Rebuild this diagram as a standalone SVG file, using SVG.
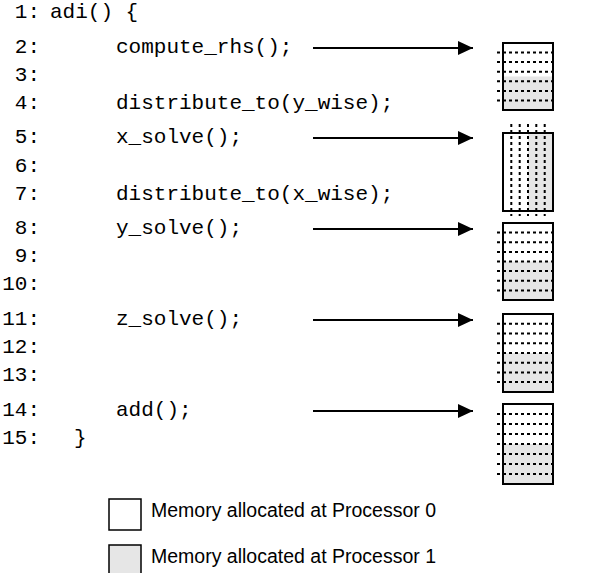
<svg xmlns="http://www.w3.org/2000/svg" width="608" height="573" viewBox="0 0 608 573">
<defs>
<style>
.code{font-family:"Liberation Mono","Courier New",monospace;font-size:21px;fill:#000}
.num{font-family:"Liberation Mono","Courier New",monospace;font-size:21px;fill:#000;text-anchor:end}
.leg{font-family:"Liberation Sans",Arial,sans-serif;font-size:19.5px;fill:#000}
.box{fill:none;stroke:#000;stroke-width:2}
.p1{fill:#e6e6e6;stroke:none}
.dot{stroke:#000;stroke-width:2;stroke-dasharray:3 3;fill:none}
.arr{stroke:#000;stroke-width:2;fill:none}
</style>
<marker id="ah" markerWidth="16" markerHeight="14" refX="15" refY="7" orient="auto" markerUnits="userSpaceOnUse">
<polygon points="0,0 15,7 0,14" fill="#000"/>
</marker>
</defs>
<g id="code">
<text class="num" x="40" y="18">1:</text><text class="code" x="50" y="18">adi() {</text>
<text class="num" x="40" y="53">2:</text><text class="code" x="116" y="53">compute_rhs();</text>
<text class="num" x="40" y="81">3:</text>
<text class="num" x="40" y="109">4:</text><text class="code" x="116" y="109">distribute_to(y_wise);</text>
<text class="num" x="40" y="143">5:</text><text class="code" x="116" y="143">x_solve();</text>
<text class="num" x="40" y="172">6:</text>
<text class="num" x="40" y="200">7:</text><text class="code" x="116" y="200">distribute_to(x_wise);</text>
<text class="num" x="40" y="234">8:</text><text class="code" x="116" y="234">y_solve();</text>
<text class="num" x="40" y="262">9:</text>
<text class="num" x="40" y="290">10:</text>
<text class="num" x="40" y="325">11:</text><text class="code" x="116" y="325">z_solve();</text>
<text class="num" x="40" y="353">12:</text>
<text class="num" x="40" y="381">13:</text>
<text class="num" x="40" y="416">14:</text><text class="code" x="116" y="416">add();</text>
<text class="num" x="40" y="444">15:</text><text class="code" x="74" y="444">}</text>
</g>
<g id="connectors">
<line class="arr" x1="313" y1="48" x2="473" y2="48" marker-end="url(#ah)"/>
<line class="arr" x1="313" y1="138" x2="473" y2="138" marker-end="url(#ah)"/>
<line class="arr" x1="313" y1="229" x2="473" y2="229" marker-end="url(#ah)"/>
<line class="arr" x1="313" y1="320" x2="473" y2="320" marker-end="url(#ah)"/>
<line class="arr" x1="313" y1="411" x2="473" y2="411" marker-end="url(#ah)"/>
</g>
<g id="mem1">
<rect class="p1" x="503" y="76.5" width="50" height="33.5"/>
<path class="dot" d="M497 52.6H556M497 62.1H556M497 71.7H556M497 81.3H556M497 90.9H556M497 100.4H556"/>
<rect class="box" x="503" y="43" width="50" height="67"/>
</g>
<g id="mem2">
<rect class="p1" x="528" y="133" width="25" height="78"/>
<path class="dot" d="M511.3 124V216M519.7 124V216M528 124V216M536.3 124V216M544.7 124V216"/>
<rect class="box" x="503" y="133" width="50" height="78"/>
</g>
<g id="mem3">
<rect class="p1" x="503" y="261.5" width="50" height="38.5"/>
<path class="dot" d="M497 232.6H556M497 242.3H556M497 251.9H556M497 261.5H556M497 271.1H556M497 280.8H556M497 290.4H556"/>
<rect class="box" x="503" y="223" width="50" height="77"/>
</g>
<g id="mem4">
<rect class="p1" x="503" y="353" width="50" height="39"/>
<path class="dot" d="M497 323.8H556M497 333.5H556M497 343.2H556M497 353H556M497 362.7H556M497 372.4H556M497 382.1H556"/>
<rect class="box" x="503" y="314" width="50" height="78"/>
</g>
<g id="mem5">
<rect class="p1" x="503" y="444" width="50" height="40"/>
<path class="dot" d="M497 414H556M497 424H556M497 434H556M497 444H556M497 454H556M497 464H556M497 474H556"/>
<rect class="box" x="503" y="404" width="50" height="80"/>
</g>
<g id="legend0">
<rect x="109" y="499" width="32" height="31" fill="#fff" stroke="#000" stroke-width="1.5"/>
<text class="leg" x="151" y="517">Memory allocated at Processor 0</text>
</g>
<g id="legend1">
<rect x="109" y="545" width="32" height="31" fill="#e6e6e6" stroke="#000" stroke-width="1.5"/>
<text class="leg" x="151" y="563">Memory allocated at Processor 1</text>
</g>
</svg>
